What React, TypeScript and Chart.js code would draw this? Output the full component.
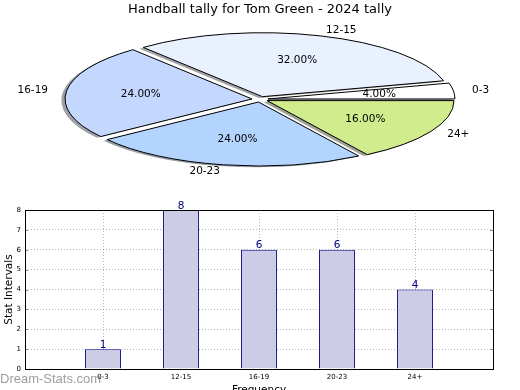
import React, { useEffect, useRef } from 'react';
import { Chart, registerables } from 'chart.js';

Chart.register(...registerables);

const TITLE = 'Handball tally for Tom Green - 2024 tally';
const CATEGORIES = ['0-3', '12-15', '16-19', '20-23', '24+'];
const COUNTS = [1, 8, 6, 6, 4];
const PIE_COLORS = ['#ffffff', '#e9f1ff', '#c4d8ff', '#b3d4ff', '#d0ec8c'];
const Y_MAX = 8;
const X_TITLE = 'Frequency';
const Y_TITLE = 'Stat Intervals';
const WATERMARK = 'Dream-Stats.com';

const FONT = 'DejaVu Sans';
const EXPLODE = 0.043;
const SHADOW = 0.02;
const LABEL_DIST = 1.1;
const PCT_DIST = 0.6;

function shadowColor(hex: string): string {
  const n = parseInt(hex.slice(1), 16);
  const r = (n >> 16) & 255, g = (n >> 8) & 255, b = n & 255;
  return `rgba(${Math.round(r * 0.3)},${Math.round(g * 0.3)},${Math.round(b * 0.3)},0.5)`;
}

function ellipseGeom(chart: any) {
  const arcs = chart.getDatasetMeta(0).data as any[];
  const a = chart.chartArea;
  const { x: cx, y: cy, outerRadius: R } = arcs[0];
  const sx = a.width / 2 / (R * (1 + EXPLODE));
  const sy = a.height / 2 / (R * (1 + EXPLODE));
  return { arcs, cx, cy, R, sx, sy };
}

const ellipsePie = {
  id: 'ellipsePie',
  beforeDatasetsDraw(chart: any) {
    const meta = chart.getDatasetMeta(0);
    if (!meta.data.length) return;
    const { arcs, cx, cy, R, sx, sy } = ellipseGeom(chart);
    const ctx = chart.ctx as any;
    const dpr = chart.currentDevicePixelRatio || 1;
    const colors = chart.data.datasets[0].backgroundColor as string[];
    ctx.save();
    ctx.translate(cx, cy);
    ctx.scale(sx, sy);
    ctx.translate(-cx, -cy);
    const proto = Object.getPrototypeOf(ctx);
    const origStroke = proto.stroke;
    ctx.stroke = function () {
      this.save();
      this.setTransform(dpr, 0, 0, dpr, 0, 0);
      origStroke.call(this);
      this.restore();
    };
    // shadows (below every wedge)
    arcs.forEach((arc, i) => {
      const mid = (arc.startAngle + arc.endAngle) / 2;
      const o = arc.options;
      ctx.save();
      ctx.translate(Math.cos(mid) * EXPLODE * R - SHADOW * R, Math.sin(mid) * EXPLODE * R + SHADOW * R);
      arc.options = { ...o, backgroundColor: shadowColor(colors[i]), borderWidth: 0 };
      arc.draw(ctx);
      arc.options = o;
      ctx.restore();
    });
    // wedges
    arcs.forEach((arc) => {
      const mid = (arc.startAngle + arc.endAngle) / 2;
      ctx.save();
      ctx.translate(Math.cos(mid) * EXPLODE * R, Math.sin(mid) * EXPLODE * R);
      arc.draw(ctx);
      ctx.restore();
    });
    delete ctx.stroke;
    ctx.restore();
    return false;
  },
  afterDraw(chart: any) {
    const meta = chart.getDatasetMeta(0);
    if (!meta.data.length) return;
    const { arcs, cx, cy, R, sx, sy } = ellipseGeom(chart);
    const ctx = chart.ctx;
    const values = chart.data.datasets[0].data as number[];
    const labels = chart.data.labels as string[];
    const total = values.reduce((s, v) => s + v, 0);
    ctx.save();
    ctx.fillStyle = '#000';
    ctx.font = `10.5px "${FONT}"`;
    ctx.textBaseline = 'middle';
    arcs.forEach((arc, i) => {
      const mid = (arc.startAngle + arc.endAngle) / 2;
      const c = Math.cos(mid), s = Math.sin(mid);
      const lx = cx + sx * R * (EXPLODE + LABEL_DIST) * c;
      const ly = cy + sy * R * (EXPLODE + LABEL_DIST) * s;
      ctx.textAlign = c > 0 ? 'left' : 'right';
      ctx.fillText(labels[i], lx, ly);
      const px = cx + sx * R * (EXPLODE + PCT_DIST) * c;
      const py = cy + sy * R * (EXPLODE + PCT_DIST) * s;
      ctx.textAlign = 'center';
      ctx.fillText(((values[i] / total) * 100).toFixed(2) + '%', px, py);
    });
    ctx.restore();
  },
};

const barExtras = {
  id: 'barExtras',
  afterDatasetsDraw(chart: any) {
    const meta = chart.getDatasetMeta(0);
    const ctx = chart.ctx;
    ctx.save();
    ctx.fillStyle = '#000080';
    ctx.font = `10.5px "${FONT}"`;
    ctx.textAlign = 'center';
    ctx.textBaseline = 'alphabetic';
    meta.data.forEach((bar: any, i: number) => {
      ctx.fillText(String(COUNTS[i]), bar.x, bar.y - 1.5);
    });
    ctx.restore();
  },
  afterDraw(chart: any) {
    const ctx = chart.ctx;
    const a = chart.chartArea;
    const y = chart.scales.y;
    ctx.save();
    ctx.strokeStyle = '#888';
    ctx.lineWidth = 1;
    y.ticks.forEach((t: any) => {
      const py = Math.round(y.getPixelForValue(t.value)) + 0.5;
      ctx.beginPath();
      ctx.moveTo(a.left, py);
      ctx.lineTo(a.left + 3, py);
      ctx.moveTo(a.right - 3, py);
      ctx.lineTo(a.right, py);
      ctx.stroke();
    });
    ctx.strokeStyle = '#000';
    ctx.strokeRect(a.left + 0.5, a.top + 0.5, a.width, a.height);
    ctx.restore();
  },
};

export default function App() {
  const pieRef = useRef<HTMLCanvasElement>(null);
  const barRef = useRef<HTMLCanvasElement>(null);

  useEffect(() => {
    Chart.defaults.font.family = FONT;
    const order = CATEGORIES.map((_, i) => CATEGORIES.length - 1 - i);
    const pie = new Chart(pieRef.current!, {
      type: 'pie',
      data: {
        labels: order.map((i) => CATEGORIES[i]),
        datasets: [
          {
            data: order.map((i) => COUNTS[i]),
            backgroundColor: order.map((i) => PIE_COLORS[i]),
            borderColor: '#000',
            borderWidth: 1,
          },
        ],
      },
      options: {
        animation: false,
        responsive: false,
        events: [],
        rotation: 90,
        layout: { padding: { left: 65, right: 65, top: 0, bottom: 24 } },
        plugins: {
          legend: { display: false },
          tooltip: { enabled: false },
          title: {
            display: true,
            text: TITLE,
            color: '#000',
            font: { family: FONT, size: 13, weight: 'normal' },
            padding: { top: 2, bottom: 15 },
          },
        },
      } as any,
      plugins: [ellipsePie],
    });

    const bar = new Chart(barRef.current!, {
      type: 'bar',
      data: {
        datasets: [
          {
            data: CATEGORIES.map((c, i) => ({ x: i + 1, y: COUNTS[i] })),
            backgroundColor: '#ccccE6',
            borderColor: '#000080',
            borderWidth: 1,
            barPercentage: 0.46,
            categoryPercentage: 1,
          },
        ],
      },
      options: {
        animation: false,
        responsive: false,
        events: [],
        layout: { padding: { top: 20, right: 27, left: 0, bottom: 0 } },
        plugins: { legend: { display: false }, tooltip: { enabled: false } },
        scales: {
          x: {
            type: 'linear',
            min: 0,
            max: CATEGORIES.length + 1,
            offset: false,
            z: 1,
            afterFit: (s: any) => {
              s.height = 28;
            },
            ticks: {
              stepSize: 1,
              autoSkip: false,
              maxRotation: 0,
              padding: 4,
              color: '#000',
              font: { family: FONT, size: 7 },
              callback: (v: any) => CATEGORIES[Number(v) - 1] ?? '',
            },
            grid: { color: 'rgba(0,0,0,0.28)', drawTicks: false, offset: false },
            border: { display: false, dash: [1, 2] },
            title: {
              display: true,
              text: X_TITLE,
              color: '#000',
              font: { family: FONT, size: 10.5 },
              padding: { top: 0, bottom: 0 },
            },
          },
          y: {
            min: 0,
            max: Y_MAX,
            z: 1,
            afterFit: (s: any) => {
              s.width = 25;
            },
            ticks: { stepSize: 1, padding: 4, color: '#000', font: { family: FONT, size: 7 } },
            grid: { color: 'rgba(0,0,0,0.28)', drawTicks: false },
            border: { display: false, dash: [1, 2] },
            title: {
              display: true,
              text: Y_TITLE,
              color: '#000',
              font: { family: FONT, size: 10.5 },
              padding: { top: 3, bottom: 0 },
            },
          },
        },
      } as any,
      plugins: [barExtras],
    });

    return () => {
      pie.destroy();
      bar.destroy();
    };
  }, []);

  return (
    <div style={{ position: 'absolute', left: 0, top: 0, width: 520, height: 390, overflow: 'hidden', background: '#fff' }}>
      <canvas ref={pieRef} width={520} height={190} style={{ position: 'absolute', left: 0, top: 0, width: 520, height: 190 }} />
      <canvas ref={barRef} width={520} height={207} style={{ position: 'absolute', left: 0, top: 190, width: 520, height: 207 }} />
      <div
        style={{
          position: 'absolute',
          left: 0,
          top: 371,
          font: '13px "Liberation Sans"',
          color: 'rgba(90,90,90,0.6)',
          lineHeight: '15px',
          whiteSpace: 'nowrap',
        }}
      >
        {WATERMARK}
      </div>
    </div>
  );
}
